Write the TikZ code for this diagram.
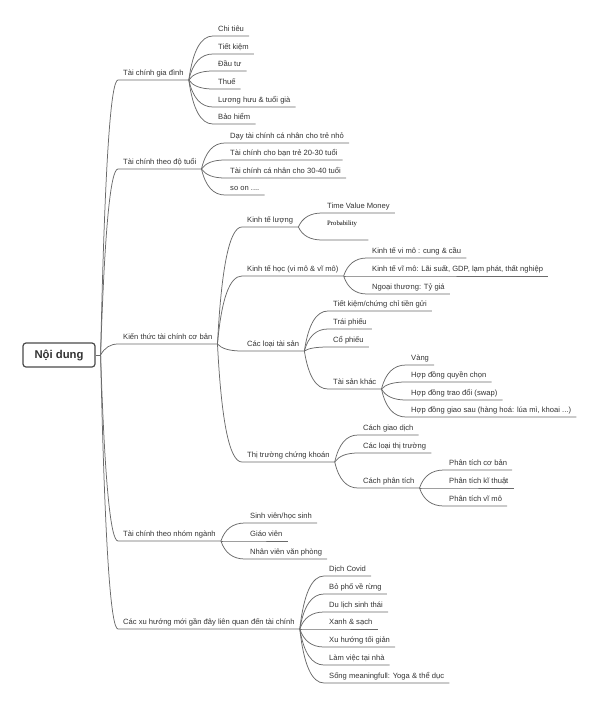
\documentclass[tikz,border=0pt]{standalone}
\usepackage{fontspec}
\setmainfont{Liberation Sans}
\newfontfamily\probfont{Liberation Serif}
\usetikzlibrary{calc}
\definecolor{txt}{HTML}{333333}
\definecolor{ln}{HTML}{6A6A6A}
\definecolor{rootc}{HTML}{4A4A4A}
\tikzset{
  leaf/.style={anchor=south west, inner xsep=5pt, inner ysep=0pt, text height=6.5pt, text depth=4pt, font=\fontsize{7.6}{9}\selectfont, text=txt},
  conn/.style={draw=ln, line width=0.75pt},
  rootbox/.style={draw=rootc, line width=1.2pt, rounded corners=3pt, fill=white, minimum width=72pt, minimum height=24pt, inner sep=0pt, font=\fontsize{11.3}{13}\selectfont\bfseries, text=txt},
  plain/.style={anchor=west, inner sep=0pt, font=\probfont\fontsize{6.7}{8}\selectfont, text=black}
}
\newcommand\mmlink[2]{\draw[conn] let \p1=(#1), \p2=(#2.south west) in (\p1) .. controls (\x1+4pt,{\y1+0.6667*(\y2-\y1)}) and ({\x2+0.6667*(\x1+6pt-\x2)},\y2) .. (\p2) -- (#2.south east);}
\begin{document}
\begin{tikzpicture}[x=1pt,y=-1pt]
\useasboundingbox (0,0) rectangle (600,706);
% root
\node[rootbox] (root) at (59,355) {Nội dung};
\coordinate (rs) at ([xshift=5pt]root.east);
% level 1
\node[leaf] (a) at (118,80) {Tài chính gia đình};
\node[leaf] (b) at (118,169) {Tài chính theo độ tuổi};
\node[leaf] (c) at (118,344) {Kiến thức tài chính cơ bản};
\node[leaf] (d) at (118,541) {Tài chính theo nhóm ngành};
\node[leaf] (e) at (118,629) {Các xu hướng mới gần đây liên quan đến tài chính};
% a
\node[leaf] (a1) at (213,36) {Chi tiêu};
\node[leaf] (a2) at (213,54) {Tiết kiệm};
\node[leaf] (a3) at (213,71) {Đầu tư};
\node[leaf] (a4) at (213,89) {Thuế};
\node[leaf] (a5) at (213,107) {Lương hưu \& tuổi già};
\node[leaf] (a6) at (213,124) {Bảo hiểm};
% b
\node[leaf] (b1) at (225,143) {Dạy tài chính cá nhân cho trẻ nhỏ};
\node[leaf] (b2) at (225,160) {Tài chính cho bạn trẻ 20-30 tuổi};
\node[leaf] (b3) at (225,178) {Tài chính cá nhân cho 30-40 tuổi};
\node[leaf] (b4) at (225,195) {so on ....};
% c
\node[leaf] (c1) at (242,227) {Kinh tế lượng};
\node[leaf] (c2) at (242,276) {Kinh tế học (vi mô \& vĩ mô)};
\node[leaf] (c3) at (242,351) {Các loại tài sản};
\node[leaf] (c4) at (242,462) {Thị trường chứng khoán};
% c1
\node[leaf] (c11) at (322,213) {Time Value Money};
\node[leaf, minimum width=46pt] (c12) at (322,240) {};
\node[plain] (prob) at (327,224) {Probability};
% c2
\node[leaf] (c21) at (367,258) {Kinh tế vi mô : cung \& cầu};
\node[leaf] (c22) at (367,276) {Kinh tế vĩ mô: Lãi suất, GDP, lạm phát, thất nghiệp};
\node[leaf] (c23) at (367,294) {Ngoại thương: Tỷ giá};
% c3
\node[leaf] (c31) at (328,311) {Tiết kiệm/chứng chỉ tiền gửi};
\node[leaf] (c32) at (328,329) {Trái phiếu};
\node[leaf] (c33) at (328,347) {Cổ phiếu};
\node[leaf] (c34) at (328,389) {Tài sản khác};
\node[leaf] (c341) at (406,365) {Vàng};
\node[leaf] (c342) at (406,382) {Hợp đồng quyền chọn};
\node[leaf] (c343) at (406,400) {Hợp đồng trao đổi (swap)};
\node[leaf] (c344) at (406,417) {Hợp đồng giao sau (hàng hoá: lúa mì, khoai ...)};
% c4
\node[leaf] (c41) at (358,435) {Cách giao dịch};
\node[leaf] (c42) at (358,453) {Các loại thị trường};
\node[leaf] (c43) at (358,488) {Cách phân tích};
\node[leaf] (c431) at (444,470) {Phân tích cơ bản};
\node[leaf] (c432) at (444,488) {Phân tích kĩ thuật};
\node[leaf] (c433) at (444,506) {Phân tích vĩ mô};
% d
\node[leaf] (d1) at (245,523) {Sinh viên/học sinh};
\node[leaf] (d2) at (245,541) {Giáo viên};
\node[leaf] (d3) at (245,559) {Nhân viên văn phòng};
% e
\node[leaf] (e1) at (324,576) {Dịch Covid};
\node[leaf] (e2) at (324,594) {Bỏ phố về rừng};
\node[leaf] (e3) at (324,612) {Du lịch sinh thái};
\node[leaf] (e4) at (324,629) {Xanh \& sạch};
\node[leaf] (e5) at (324,647) {Xu hướng tối giản};
\node[leaf] (e6) at (324,665) {Làm việc tại nhà};
\node[leaf] (e7) at (324,683) {Sống meaningfull: Yoga \& thể dục};
% connectors
\draw[conn] (root.east) -- (rs);
\foreach \k in {a,b,c,d,e} {\mmlink{rs}{\k}}
\foreach \k in {a1,a2,a3,a4,a5,a6} {\mmlink{a.south east}{\k}}
\foreach \k in {b1,b2,b3,b4} {\mmlink{b.south east}{\k}}
\foreach \k in {c1,c2,c3,c4} {\mmlink{c.south east}{\k}}
\foreach \k in {c11,c12} {\mmlink{c1.south east}{\k}}
\foreach \k in {c21,c22,c23} {\mmlink{c2.south east}{\k}}
\foreach \k in {c31,c32,c33,c34} {\mmlink{c3.south east}{\k}}
\foreach \k in {c341,c342,c343,c344} {\mmlink{c34.south east}{\k}}
\foreach \k in {c41,c42,c43} {\mmlink{c4.south east}{\k}}
\foreach \k in {c431,c432,c433} {\mmlink{c43.south east}{\k}}
\foreach \k in {d1,d2,d3} {\mmlink{d.south east}{\k}}
\foreach \k in {e1,e2,e3,e4,e5,e6,e7} {\mmlink{e.south east}{\k}}
\end{tikzpicture}
\end{document}
